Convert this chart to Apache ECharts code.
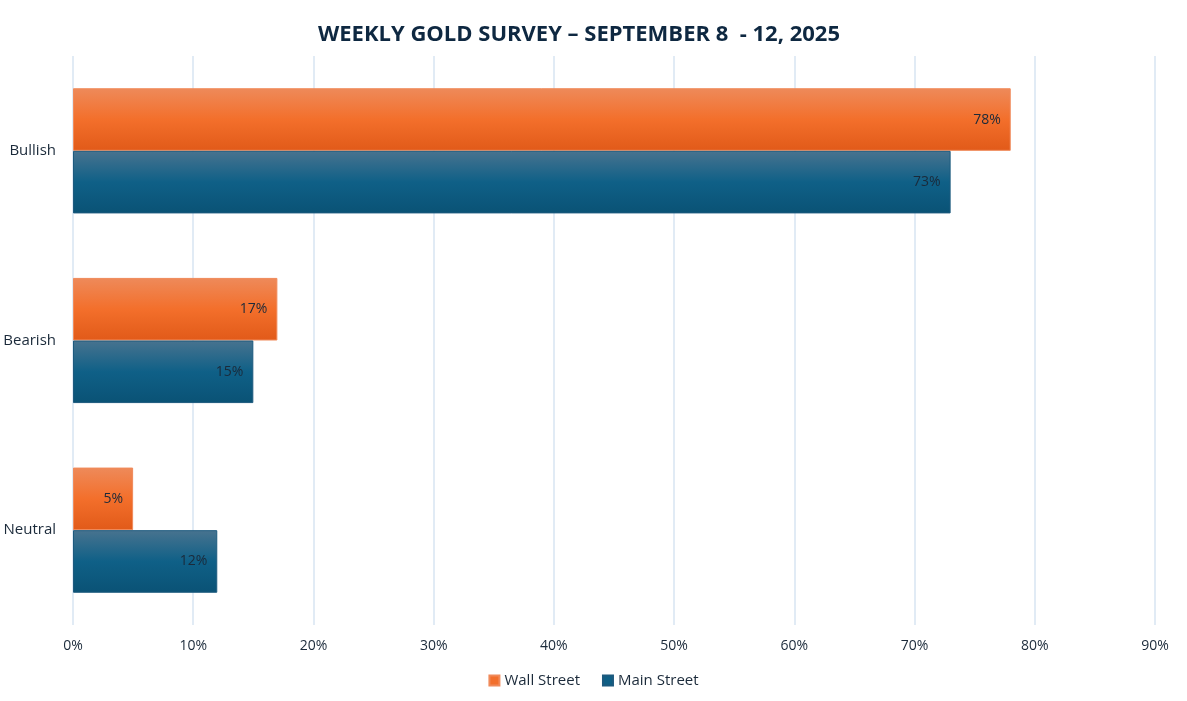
<!DOCTYPE html>
<html>
<head>
<meta charset="utf-8">
<script src="https://cdn.jsdelivr.net/npm/echarts@6/dist/echarts.min.js"></script>
<style>html,body{margin:0;padding:0;background:#fff;}#c{width:1187px;height:701px;}</style>
</head>
<body>
<div id="c"></div>
<script>
const categories = ['Bullish', 'Bearish', 'Neutral'];
const wallStreet = [78, 17, 5];
const mainStreet = [73, 15, 12];
const xTicks = [0, 10, 20, 30, 40, 50, 60, 70, 80, 90];

const chart = echarts.init(document.getElementById('c'));
const orange = new echarts.graphic.LinearGradient(0, 0, 0, 1, [
  {offset: 0, color: '#ee8a5a'}, {offset: 0.5, color: '#f36f2b'}, {offset: 1, color: '#e15a19'}]);
const blue = new echarts.graphic.LinearGradient(0, 0, 0, 1, [
  {offset: 0, color: '#48738f'}, {offset: 0.5, color: '#0f6087'}, {offset: 1, color: '#0a5275'}]);
const labelStyle = {show: true, position: 'insideRight', formatter: '{c}%', color: '#1b2a3a', fontSize: 14, fontFamily: 'Open Sans', distance: 10};
chart.setOption({
  animation: false,
  title: {text: 'WEEKLY GOLD SURVEY \u2013 SEPTEMBER 8  - 12, 2025', left: 313, top: 19,
    textStyle: {fontSize: 22, fontWeight: 'bold', color: '#0e2841', fontFamily: 'Open Sans'}},
  legend: {bottom: 8, left: 'center', itemWidth: 10, itemHeight: 10, itemGap: 22, icon: 'rect',
    textStyle: {fontSize: 15, color: '#1b2a3a', fontFamily: 'Open Sans'},
    data: [{name: 'Wall Street', itemStyle: {color: '#f26f2c'}}, {name: 'Main Street', itemStyle: {color: '#0f5f85'}}]},
  grid: {left: 73, right: 32, top: 56, bottom: 76},
  xAxis: {type: 'value', min: 0, max: 90, interval: 10,
    axisLabel: {formatter: v => xTicks.includes(v) ? v + '%' : '', color: '#1b2a3a', fontSize: 14, fontFamily: 'Open Sans', margin: 14},
    axisLine: {show: false}, axisTick: {show: false},
    splitLine: {lineStyle: {color: '#d7e4f2', width: 1.5}}},
  yAxis: {type: 'category', data: categories, inverse: true,
    axisLine: {show: false}, axisTick: {show: false},
    axisLabel: {color: '#1b2a3a', fontSize: 15, fontFamily: 'Open Sans', margin: 17}},
  series: [
    {name: 'Wall Street', type: 'bar', data: wallStreet, barGap: '0%', barCategoryGap: '34%',
      itemStyle: {color: orange, borderColor: '#f08a5a', borderWidth: 1}, label: labelStyle},
    {name: 'Main Street', type: 'bar', data: mainStreet, barGap: '0%', barCategoryGap: '34%',
      itemStyle: {color: blue, borderColor: '#1d5a7e', borderWidth: 1}, label: labelStyle}
  ]
});
</script>
</body>
</html>
